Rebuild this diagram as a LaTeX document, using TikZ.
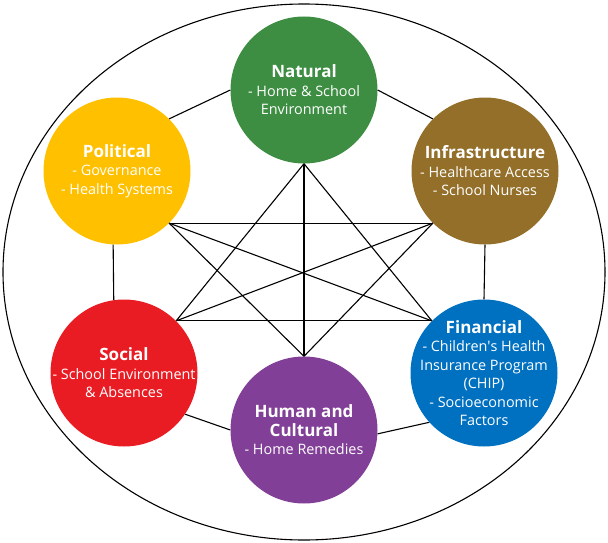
\documentclass[tikz,border=0pt]{standalone}
\usepackage{fontspec}
\setmainfont{Open Sans}
\definecolor{natgreen}{RGB}{61,142,66}
\definecolor{infrabrown}{RGB}{147,111,42}
\definecolor{finblue}{RGB}{0,112,192}
\definecolor{humpurple}{RGB}{130,63,151}
\definecolor{socred}{RGB}{233,28,36}
\definecolor{polyellow}{RGB}{255,192,0}
\newcommand{\captitle}[1]{{\fontsize{17}{21}\selectfont\bfseries #1}}
\begin{document}
\begin{tikzpicture}[x=1pt,y=-1pt,
  capital/.style={circle,minimum size=147pt,inner sep=-22pt,align=center,text=white,
    font=\fontsize{14.4}{18.5}\selectfont},
  link/.style={line width=1.1pt}]
\useasboundingbox (0,0) rectangle (608,543);
\draw[link] (304,272) ellipse [x radius=301pt, y radius=268pt];
% the six capitals
\node[capital,fill=natgreen] (nat) at (304,90) {\captitle{Natural}\\- Home \& School\\Environment};
\node[capital,fill=infrabrown] (infra) at (485,171) {\captitle{Infrastructure}\\- Healthcare Access\\- School Nurses};
\node[capital,fill=finblue] (fin) at (484,373) {\captitle{Financial}\\- Children\textquotesingle s Health\\Insurance Program\\(CHIP)\\- Socioeconomic\\Factors};
\node[capital,fill=humpurple] (hum) at (304,430) {\captitle{Human and}\\\captitle{Cultural}\\- Home Remedies};
\node[capital,fill=socred] (soc) at (124,373) {\captitle{Social}\\- School Environment\\\& Absences};
\node[capital,fill=polyellow] (pol) at (117,171) {\captitle{Political}\\- Governance\\- Health Systems};
% outer ring
\draw[link] (pol.45) -- (nat.west);
\draw[link] (nat.east) -- (infra.135);
\draw[link] (infra.south) -- (fin.north);
\draw[link] (fin.222) -- (hum.357);
\draw[link] (hum.west) -- (soc.326);
\draw[link] (soc.98) -- (pol.267);
% inner links
\foreach \a/\b in {nat.south/hum.north, nat.south/soc.45, nat.south/fin.135,
    pol.315/infra.225, pol.315/fin.135, pol.315/hum.north,
    infra.225/soc.45, infra.225/hum.north, soc.45/fin.135}
  \draw[link] (\a) -- (\b);
\end{tikzpicture}
\end{document}
